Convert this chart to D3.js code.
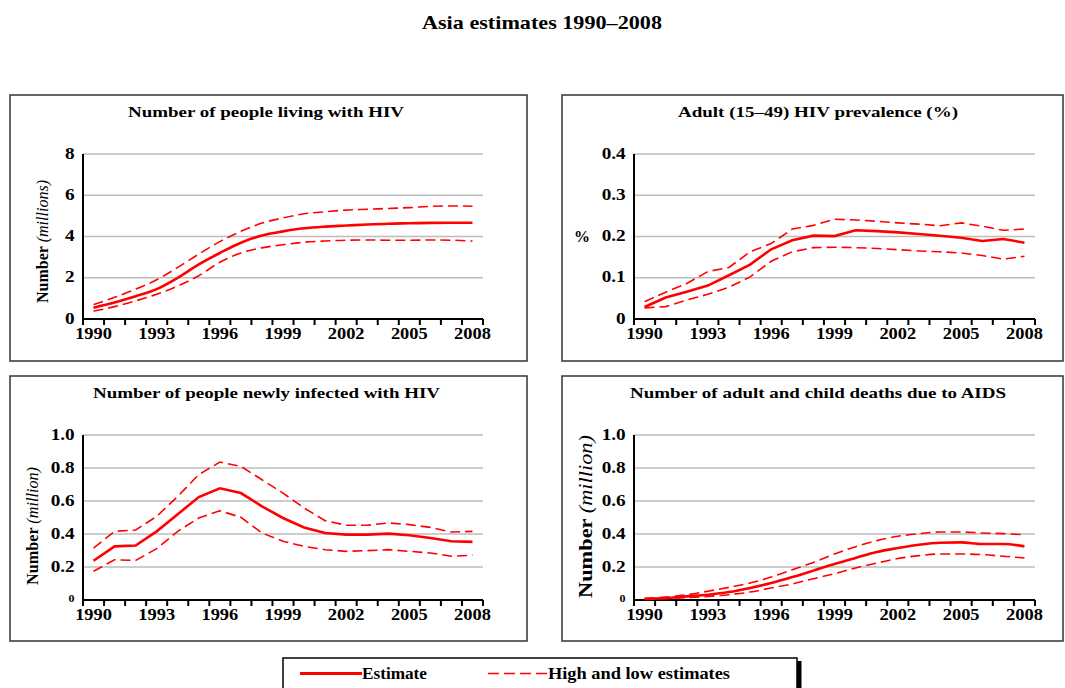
<!DOCTYPE html>
<html><head><meta charset="utf-8">
<script src="https://cdn.jsdelivr.net/npm/d3@7"></script>
<style>
body{margin:0;background:#fff}
svg{display:block}
</style>
</head><body>
<svg id="c" width="1065" height="688" font-family="'Liberation Serif', 'Times New Roman', serif"></svg>
<script>
// ---------- DATA ----------
const years = [1990,1991,1992,1993,1994,1995,1996,1997,1998,1999,2000,2001,2002,2003,2004,2005,2006,2007,2008];
const xTickLabels = [1990,1993,1996,1999,2002,2005,2008];

const livingEst  = [0.55,0.8,1.1,1.45,2.0,2.65,3.2,3.7,4.05,4.25,4.4,4.48,4.53,4.58,4.62,4.64,4.66,4.67,4.67];
const livingHigh = [0.7,1.05,1.45,1.9,2.5,3.15,3.75,4.25,4.65,4.9,5.1,5.2,5.28,5.32,5.36,5.4,5.46,5.48,5.47];
const livingLow  = [0.38,0.6,0.88,1.2,1.6,2.1,2.75,3.2,3.45,3.6,3.72,3.78,3.82,3.83,3.82,3.82,3.83,3.82,3.78];

const prevEst  = [0.029,0.052,0.066,0.081,0.106,0.132,0.169,0.191,0.202,0.201,0.215,0.213,0.21,0.206,0.202,0.197,0.189,0.194,0.185];
const prevHigh = [0.042,0.065,0.086,0.115,0.125,0.163,0.183,0.218,0.227,0.242,0.24,0.237,0.233,0.23,0.226,0.233,0.225,0.215,0.218];
const prevLow  = [0.027,0.03,0.046,0.06,0.077,0.102,0.14,0.163,0.173,0.174,0.173,0.171,0.168,0.165,0.163,0.16,0.154,0.145,0.152];

const newEst  = [0.238,0.325,0.33,0.416,0.52,0.624,0.677,0.648,0.568,0.497,0.44,0.406,0.396,0.396,0.402,0.392,0.376,0.356,0.352];
const newHigh = [0.315,0.416,0.424,0.507,0.628,0.76,0.836,0.81,0.729,0.648,0.558,0.481,0.453,0.453,0.467,0.457,0.44,0.412,0.416];
const newLow  = [0.174,0.244,0.24,0.311,0.416,0.497,0.541,0.501,0.406,0.356,0.325,0.305,0.295,0.299,0.305,0.295,0.285,0.265,0.271];

const deathsEst  = [0.006,0.012,0.022,0.032,0.048,0.073,0.103,0.139,0.178,0.218,0.255,0.291,0.315,0.335,0.347,0.349,0.339,0.339,0.325];
const deathsHigh = [0.01,0.018,0.032,0.053,0.077,0.103,0.139,0.184,0.228,0.279,0.323,0.36,0.386,0.402,0.412,0.412,0.406,0.402,0.396];
const deathsLow  = [0.004,0.008,0.014,0.022,0.032,0.048,0.073,0.097,0.129,0.16,0.194,0.224,0.251,0.269,0.279,0.279,0.275,0.265,0.255];

const yTicksLiving = [0,2,4,6,8];
const yTicksPrev   = [0,0.1,0.2,0.3,0.4];
const yTicksMillion = [0,0.2,0.4,0.6,0.8,1.0];

const mainTitle = "Asia estimates 1990–2008";
const legendLabels = ["Estimate","High and low estimates"];

// ---------- LAYOUT ----------
const RED = "#ff0000";
const FONT = "'Liberation Serif', 'Times New Roman', serif";
const svg = d3.select("#c");

const panels = [
  {title:"Number of people living with HIV", tcx:266, tbase:117, tlen:276,
   box:[10,95,527,361], left:83, right:483, top:154, bottom:319,
   ticks:yTicksLiving, fmt:d3.format("d"), est:livingEst, high:livingHigh, low:livingLow,
   curve:d3.curveMonotoneX, ylab:{bold:"Number ", ital:"(millions)", x:48, y:241.5, size:16, len:123}},
  {title:"Adult (15–49) HIV prevalence (%)", tcx:818, tbase:117, tlen:280,
   box:[562,95,1063,361], left:634, right:1035, top:154, bottom:319,
   ticks:yTicksPrev, fmt:d=>d===0?"0":d3.format(".1f")(d), est:prevEst, high:prevHigh, low:prevLow,
   curve:d3.curveLinear, pct:{x:582, y:242}},
  {title:"Number of people newly infected with HIV", tcx:266.5, tbase:398, tlen:347,
   box:[10,376,527,641], left:83, right:483, top:435, bottom:600,
   ticks:yTicksMillion, fmt:d=>d===0?"0":d3.format(".1f")(d), est:newEst, high:newHigh, low:newLow,
   curve:d3.curveLinear, smallZero:true, ylab:{bold:"Number ", ital:"(million)", x:37.5, y:526, size:16, len:118}},
  {title:"Number of adult and child deaths due to AIDS", tcx:818, tbase:398, tlen:376,
   box:[562,376,1063,641], left:634, right:1035, top:435, bottom:600,
   ticks:yTicksMillion, fmt:d=>d===0?"0":d3.format(".1f")(d), est:deathsEst, high:deathsHigh, low:deathsLow,
   curve:d3.curveMonotoneX, smallZero:true, ylab:{bold:"Number ", ital:"(million)", x:592, y:516.5, size:19, len:163}}
];

svg.append("text").attr("x",422).attr("y",29).attr("font-size",19).attr("font-weight","bold")
  .attr("textLength",240).attr("lengthAdjust","spacingAndGlyphs").text(mainTitle);

panels.forEach(p => {
  const g = svg.append("g");
  g.append("rect").attr("x",p.box[0]).attr("y",p.box[1])
    .attr("width",p.box[2]-p.box[0]).attr("height",p.box[3]-p.box[1])
    .attr("fill","none").attr("stroke","#333").attr("stroke-width",1.5);

  g.append("text").attr("x",p.tcx).attr("y",p.tbase).attr("text-anchor","middle")
    .attr("font-size",15).attr("font-weight","bold")
    .attr("textLength",p.tlen).attr("lengthAdjust","spacingAndGlyphs").text(p.title);

  const yMax = p.ticks[p.ticks.length-1];
  const x = d3.scaleBand().domain(years).range([p.left,p.right]);
  const y = d3.scaleLinear().domain([0,yMax]).range([p.bottom,p.top]);
  const bw = x.bandwidth();

  g.append("g").selectAll("line").data(p.ticks.filter(d=>d>0)).join("line")
    .attr("x1",p.left).attr("x2",p.right).attr("y1",d=>y(d)).attr("y2",d=>y(d))
    .attr("stroke","#bdbdbd").attr("stroke-width",1.5);

  const yg = g.append("g").attr("transform",`translate(${p.left},0)`)
    .call(d3.axisLeft(y).tickValues(p.ticks).tickSize(0).tickPadding(7).tickFormat(p.fmt));
  yg.attr("font-family",FONT).attr("font-size",null);
  yg.select(".domain").remove();
  yg.selectAll("text").attr("font-weight","bold").attr("fill","#000")
    .attr("font-size",d=>(p.smallZero && d===0)?10:16)
    .attr("dy",d=>(p.smallZero && d===0)?"0.1em":"0.25em")
    .attr("transform","scale(1.2,1)");

  g.append("line").attr("x1",p.left).attr("x2",p.left).attr("y1",p.top).attr("y2",p.bottom+6)
    .attr("stroke","#000").attr("stroke-width",2);
  g.append("line").attr("x1",p.left-1).attr("x2",p.right).attr("y1",p.bottom).attr("y2",p.bottom)
    .attr("stroke","#000").attr("stroke-width",2);
  const tickXs = years.map(d=>x(d)).concat([p.right]);
  g.append("g").selectAll("line").data(tickXs).join("line")
    .attr("x1",d=>d).attr("x2",d=>d).attr("y1",p.bottom).attr("y2",p.bottom+6)
    .attr("stroke","#000").attr("stroke-width",2);

  g.append("g").selectAll("text").data(xTickLabels).join("text")
    .attr("transform",d=>`translate(${x(d)+bw/2},${p.bottom+20}) scale(1.15,1)`)
    .attr("text-anchor","middle").attr("font-size",16).attr("font-weight","bold").text(d=>d);

  if (p.ylab) {
    const t = g.append("text").attr("transform",`translate(${p.ylab.x},${p.ylab.y}) rotate(-90)`)
      .attr("text-anchor","middle").attr("font-size",p.ylab.size)
      .attr("textLength",p.ylab.len).attr("lengthAdjust","spacingAndGlyphs");
    t.append("tspan").attr("font-weight","bold").text(p.ylab.bold);
    t.append("tspan").attr("font-style","italic").text(p.ylab.ital);
  }
  if (p.pct) {
    g.append("text").attr("x",p.pct.x).attr("y",p.pct.y).attr("text-anchor","middle")
      .attr("font-size",16).attr("font-weight","bold").text("%");
  }

  const line = d3.line().x((d,i)=>x(years[i])+bw/2).y(d=>y(d)).curve(p.curve);
  [p.high,p.low].forEach(s=>{
    g.append("path").attr("d",line(s)).attr("fill","none").attr("stroke",RED)
      .attr("stroke-width",1.6).attr("stroke-dasharray","10,5");
  });
  g.append("path").attr("d",line(p.est)).attr("fill","none").attr("stroke",RED)
    .attr("stroke-width",2.6);
});

const lg = svg.append("g");
lg.append("rect").attr("x",797).attr("y",661).attr("width",4.5).attr("height",40).attr("fill","#000");
lg.append("rect").attr("x",283).attr("y",658).attr("width",514).attr("height",40)
  .attr("fill","#fff").attr("stroke","#000").attr("stroke-width",1.5);
lg.append("line").attr("x1",300).attr("x2",362).attr("y1",673.5).attr("y2",673.5)
  .attr("stroke",RED).attr("stroke-width",3);
lg.append("text").attr("x",362).attr("y",679).attr("font-size",16).attr("font-weight","bold")
  .attr("textLength",65).attr("lengthAdjust","spacingAndGlyphs").text(legendLabels[0]);
lg.append("line").attr("x1",488).attr("x2",548).attr("y1",673.5).attr("y2",673.5)
  .attr("stroke",RED).attr("stroke-width",1.5).attr("stroke-dasharray","11,5");
lg.append("text").attr("x",548).attr("y",679).attr("font-size",16).attr("font-weight","bold")
  .attr("textLength",182).attr("lengthAdjust","spacingAndGlyphs").text(legendLabels[1]);
</script>
</body></html>
